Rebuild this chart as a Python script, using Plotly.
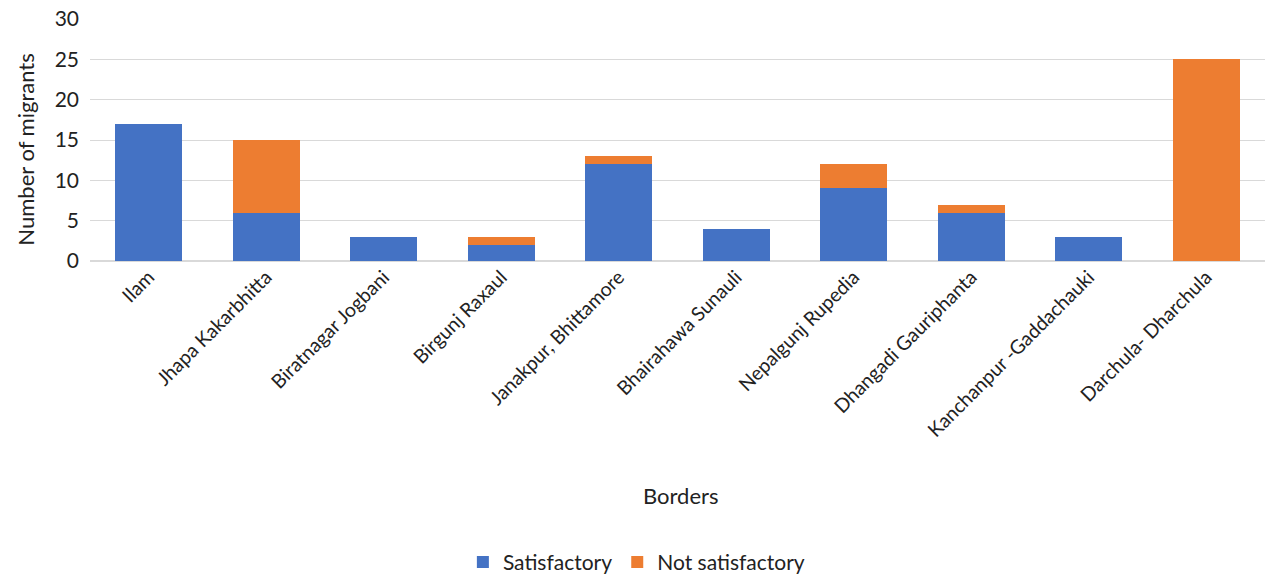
import plotly.graph_objects as go

borders = ["Ilam", "Jhapa Kakarbhitta", "Biratnagar Jogbani", "Birgunj Raxaul",
           "Janakpur, Bhittamore", "Bhairahawa Sunauli", "Nepalgunj Rupedia",
           "Dhangadi Gauriphanta", "Kanchanpur -Gaddachauki", "Darchula- Dharchula"]
satisfactory = [17, 6, 3, 2, 12, 4, 9, 6, 3, 0]
not_satisfactory = [0, 9, 0, 1, 1, 0, 3, 1, 0, 25]
y_ticks = [0, 5, 10, 15, 20, 25, 30]

FONT = "Lato, Open Sans, sans-serif"
fig = go.Figure()
fig.add_trace(go.Bar(x=borders, y=satisfactory, name="Satisfactory",
                     marker=dict(color="#4472C4", line=dict(width=0))))
fig.add_trace(go.Bar(x=borders, y=not_satisfactory, name="Not satisfactory",
                     marker=dict(color="#ED7D31", line=dict(width=0))))

fig.update_layout(
    barmode="stack", bargap=0.43,
    width=1268, height=574,
    margin=dict(l=90, r=3, t=19, b=313, autoexpand=False),
    plot_bgcolor="white", paper_bgcolor="white",
    font=dict(family=FONT, size=20, color="#222"),
    showlegend=True,
    legend=dict(orientation="h", x=0.465, xanchor="center", y=-1.245, yanchor="middle",
                font=dict(size=21), itemwidth=30, traceorder="normal"),
    xaxis=dict(tickangle=-45, showgrid=False, showline=False, ticks="",
               tickfont=dict(size=19.5), automargin=False),
    yaxis=dict(range=[0, 30], tickvals=y_ticks, showgrid=True, gridcolor="#d9d9d9",
               gridwidth=1, zeroline=True, zerolinecolor="#d9d9d9", ticks="",
               tickfont=dict(size=21), automargin=False, ticklabelstandoff=10),
    annotations=[
        dict(text="Borders", xref="paper", yref="paper", x=0.503, y=-0.967,
             showarrow=False, font=dict(size=22), xanchor="center", yanchor="middle"),
        dict(text="Number of migrants", xref="paper", yref="paper", x=-0.0545, y=0.46,
             textangle=-90, showarrow=False, font=dict(size=22),
             xanchor="center", yanchor="middle"),
    ],
)
fig.write_html("out.html")
